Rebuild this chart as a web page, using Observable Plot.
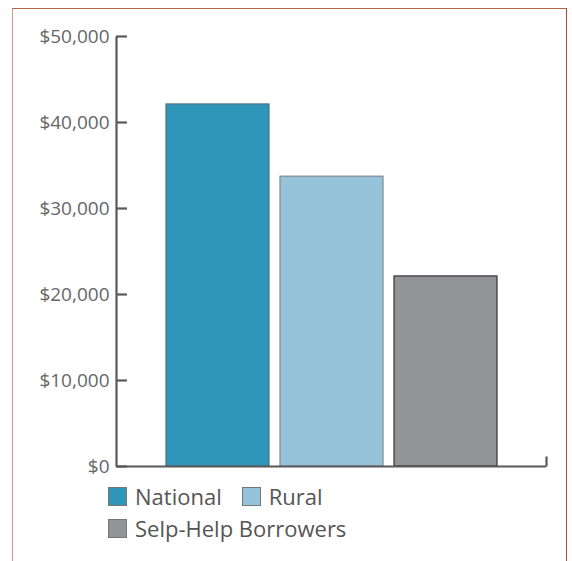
<!DOCTYPE html>
<html>
<head>
<meta charset="utf-8">
<script src="https://cdn.jsdelivr.net/npm/d3@7"></script>
<script src="https://cdn.jsdelivr.net/npm/@observablehq/plot@0.6"></script>
<style>
  html, body { margin: 0; padding: 0; background: #fff; }
  body { width: 572px; height: 561px; position: relative; overflow: hidden; font-family: "Open Sans", sans-serif; }
  #border { position: absolute; left: 12px; top: 8px; width: 555px; height: 620px;
    border-top: 1.5px solid #b0644e; border-right: 1.5px solid #a84a34; border-left: 1.5px solid #c49a8c; box-sizing: border-box; }
  #chart { position: absolute; left: 0; top: 0; }
  #legend { position: absolute; left: 108px; top: 480px; color: #555; font-size: 22px; line-height: 32px; }
  .item { display: inline-flex; align-items: center; margin-right: 20px; }
  .sw { width: 17px; height: 17px; border: 1px solid #777; margin-right: 8px; display: inline-block; }
  .row { white-space: nowrap; height: 32px; }
</style>
</head>
<body>
<div id="border"></div>
<div id="chart"></div>
<div id="legend"></div>
<script>
const categories = ["National", "Rural", "Selp-Help Borrowers"];
const values = [42100, 33700, 22100];
const yTicks = [0, 10000, 20000, 30000, 40000, 50000];
const fillColors = ["#2f96ba", "#97c3da", "#939498"];
const strokeColors = ["#4d7183", "#7f8a92", "#333333"];

const data = categories.map((c, i) => ({category: c, value: values[i]}));
const fmt = d => "$" + d3.format(",")(d);
const axisColor = "#595959";

const plot = Plot.plot({
  width: 572,
  height: 470,
  marginLeft: 116,
  marginRight: 26,
  marginTop: 36,
  marginBottom: 4,
  style: {fontFamily: "'Open Sans', sans-serif", background: "transparent", overflow: "visible"},
  x: {domain: categories, paddingInner: 0.1, paddingOuter: 0.43, axis: null},
  y: {domain: [0, 50000], axis: null},
  color: {type: "identity"},
  marks: [
    Plot.barY(data, {x: "category", y: "value",
      fill: (d, i) => fillColors[i], stroke: (d, i) => strokeColors[i], strokeWidth: 1.2}),
    Plot.axisY({ticks: yTicks, tickSize: 0, tickPadding: 7, tickFormat: fmt, label: null,
      fontSize: 19, fill: "#666", anchor: "left"}),
    Plot.ruleY(yTicks, {y: d => d, insetRight: 419, stroke: axisColor, strokeWidth: 2.2}),
    Plot.ruleY([0], {stroke: axisColor, strokeWidth: 2.2}),
    Plot.frame({fill: axisColor, stroke: null, insetLeft: -1.1, insetRight: 428.9}),
    Plot.frame({fill: axisColor, stroke: null, insetLeft: 428.9, insetRight: -1.1, insetTop: 420})
  ]
});
document.getElementById("chart").appendChild(plot);

const legend = document.getElementById("legend");
const rows = [[0, 1], [2]];
rows.forEach(r => {
  const row = document.createElement("div");
  row.className = "row";
  r.forEach(i => {
    const item = document.createElement("span");
    item.className = "item";
    const sw = document.createElement("span");
    sw.className = "sw";
    sw.style.background = fillColors[i];
    item.appendChild(sw);
    item.appendChild(document.createTextNode(categories[i]));
    row.appendChild(item);
  });
  legend.appendChild(row);
});
</script>
</body>
</html>
